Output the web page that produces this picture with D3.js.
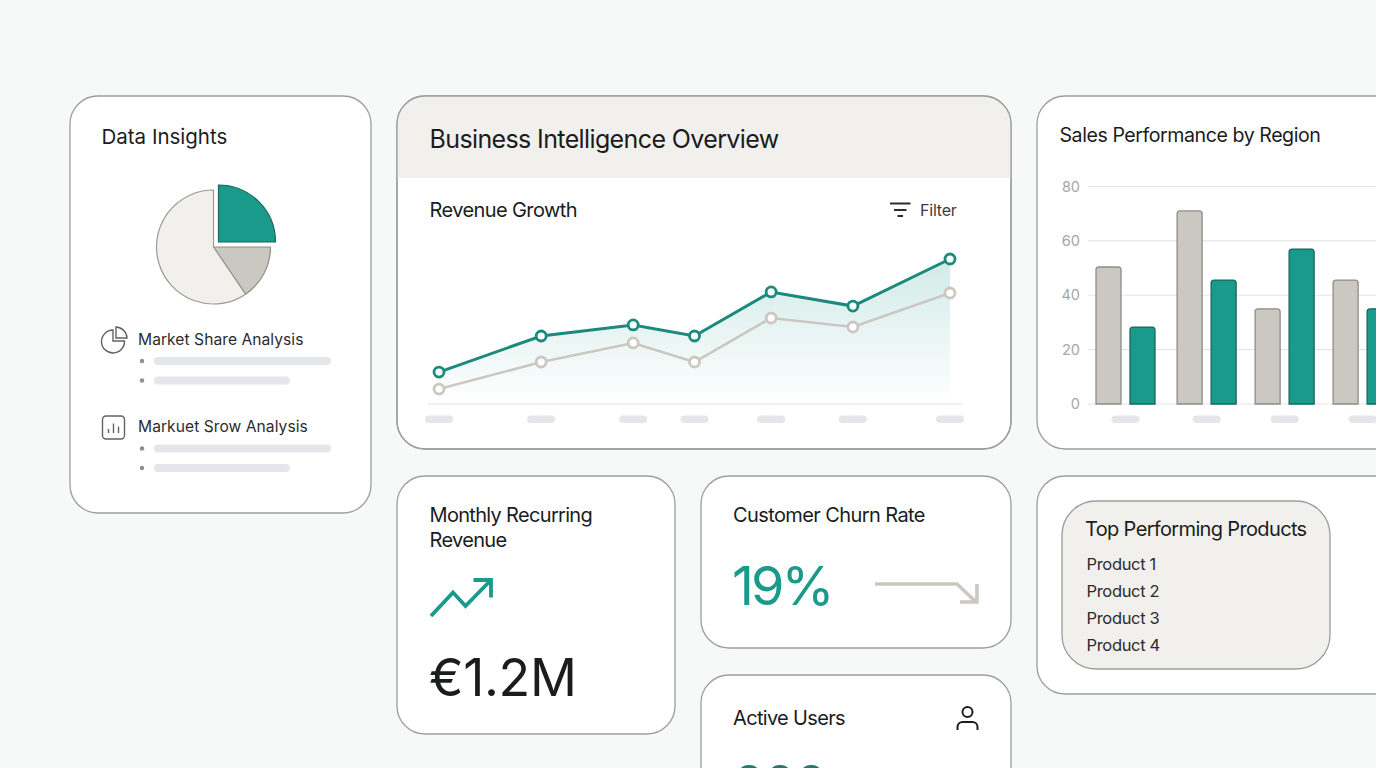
<!DOCTYPE html>
<html>
<head>
    <title>Business Intelligence Overview</title>
    <script src="https://cdnjs.cloudflare.com/ajax/libs/d3/7.8.5/d3.min.js"></script>
    <style>
        html, body { margin: 0; padding: 0; overflow: hidden; background: #f7f9f8; }
        svg { display: block; }
        text { font-family: Inter, "Noto Sans", sans-serif; fill: #1a1c1e; }
    </style>
</head>
<body>
    <div id="vis"></div>

    <script>
        // pie
        var shareNames = ["Segment A", "Segment B", "Segment C"];
        var shareValues = [25, 15.5, 59.5];

        // revenue lines
        var revenuePeriods = [0, 20, 38, 50, 65, 81, 100];
        var revenueCurrent = [18.8, 40, 46.5, 40, 65.9, 57.6, 85.3];
        var revenuePrevious = [8.8, 24.7, 35.9, 24.7, 50.6, 45.3, 65.3];

        // region bars
        var regionStops = [0, 1.04, 2.04, 3.04];
        var regionGray = [50.4, 71, 35, 45.6];
        var regionTeal = [28.3, 45.6, 57, 35];
        var regionTicks = [0, 20, 40, 60, 80];

        var productNames = ["Product 1", "Product 2", "Product 3", "Product 4"];

        var TEAL = "#1a9a8a", TEAL_LINE = "#1b8a7c", GRAY = "#cbc7c1", CREAM = "#f2f0ec",
            BORDER = "#9aa09f", PILL = "#e5e6ea";

        var vis = d3.select("#vis").append("svg")
            .attr("width", 1376)
            .attr("height", 768);

        var defs = vis.append("defs");
        var grad = defs.append("linearGradient").attr("id", "areaFill")
            .attr("x1", 0).attr("y1", 0).attr("x2", 0).attr("y2", 1);
        grad.append("stop").attr("offset", "0%").attr("stop-color", TEAL).attr("stop-opacity", 0.2);
        grad.append("stop").attr("offset", "100%").attr("stop-color", TEAL).attr("stop-opacity", 0);

        var clip = defs.append("clipPath").attr("id", "overviewClip");
        clip.append("rect").attr("x", 397).attr("y", 96).attr("width", 614).attr("height", 353).attr("rx", 28);

        function card(x, y, w, h) {
            return vis.append("rect")
                .attr("x", x).attr("y", y).attr("width", w).attr("height", h)
                .attr("rx", 28)
                .attr("fill", "#fff")
                .attr("stroke", BORDER)
                .attr("stroke-width", 1.3);
        }

        function label(x, y, str, size, color, spacing) {
            return vis.append("text")
                .attr("x", x).attr("y", y)
                .style("font-size", size + "px")
                .style("fill", color || "#1a1c1e")
                .style("letter-spacing", (spacing || 0) + "px")
                .text(str);
        }

        function pill(x, y, w, h) {
            return vis.append("rect")
                .attr("x", x).attr("y", y).attr("width", w).attr("height", h)
                .attr("rx", h / 2)
                .attr("fill", PILL);
        }

        // ---- Data Insights card
        card(70, 96, 301, 417);
        label(101.5, 144, "Data Insights", 20.5);

        var pie = d3.pie().sort(null)(shareValues);
        var arc = d3.arc().innerRadius(0).outerRadius(57);
        var shareFill = [TEAL, GRAY, CREAM];
        var shareStroke = ["#17675e", "#8f8d88", "#9a9a97"];
        var shareShift = [[5, -5], [0, 0], [0, 0]];
        vis.append("g").attr("transform", "translate(213.5,247)")
            .selectAll("path")
            .data(pie)
            .enter().append("path")
            .attr("d", arc)
            .attr("transform", function(d, i) { return "translate(" + shareShift[i] + ")"; })
            .attr("fill", function(d, i) { return shareFill[i]; })
            .attr("stroke", function(d, i) { return shareStroke[i]; })
            .attr("stroke-width", 1.2);

        var iconColor = "#5f6364";
        // little pie icon
        var ic1 = vis.append("g").attr("transform", "translate(113,341)")
            .attr("fill", "none").attr("stroke", iconColor).attr("stroke-width", 1.4);
        ic1.append("path").attr("d", "M0,-11 A11.5,11.5 0 1 0 11.5,0 L0,0 Z");
        ic1.append("path").attr("d", "M3,-14 A11.5,11.5 0 0 1 14,-3 L3,-3 Z");

        label(138, 344.5, "Market Share Analysis", 15.6, "#2a2d2f", 0.05);
        [361, 380.5].forEach(function(y, i) {
            vis.append("circle").attr("cx", 142).attr("cy", y).attr("r", 2.2).attr("fill", "#8b8f90");
            pill(154, y - 4, i ? 136 : 177, 8);
        });

        // little bar icon
        var ic2 = vis.append("g").attr("transform", "translate(102,415)")
            .attr("fill", "none").attr("stroke", iconColor).attr("stroke-width", 1.4);
        ic2.append("rect").attr("x", 0.5).attr("y", 1).attr("width", 22).attr("height", 23).attr("rx", 3.5);
        ic2.append("path").attr("d", "M6.5,18V14 M11.5,18V8.5 M16.5,18V11.5");

        label(138, 431.5, "Markuet Srow Analysis", 15.6, "#2a2d2f", 0.05);
        [448.5, 468].forEach(function(y, i) {
            vis.append("circle").attr("cx", 142).attr("cy", y).attr("r", 2.2).attr("fill", "#8b8f90");
            pill(154, y - 4, i ? 136 : 177, 8);
        });

        // ---- Overview card
        card(397, 96, 614, 353);
        vis.append("rect")
            .attr("x", 397).attr("y", 96).attr("width", 614).attr("height", 82)
            .attr("fill", CREAM)
            .attr("clip-path", "url(#overviewClip)");
        vis.append("rect")
            .attr("x", 397).attr("y", 96).attr("width", 614).attr("height", 353)
            .attr("rx", 28).attr("fill", "none")
            .attr("stroke", BORDER).attr("stroke-width", 1.3);

        label(429.5, 148, "Business Intelligence Overview", 25, null, -0.62);
        label(429.5, 217, "Revenue Growth", 20, null, -0.6);
        label(920, 215.5, "Filter", 16, "#3a3d3f", -0.2);

        var filt = vis.append("g").attr("stroke", "#2b2e30").attr("stroke-width", 2).attr("fill", "none");
        filt.append("path").attr("d", "M890,203.5H910.5 M894,210H906.5 M897.5,216H903");

        var x = d3.scaleLinear().domain([0, 100]).range([439, 950]);
        var y = d3.scaleLinear().domain([0, 100]).range([404, 234]);

        var rows = revenuePeriods.map(function(p, i) {
            return { p: p, cur: revenueCurrent[i], prev: revenuePrevious[i] };
        });

        var area = d3.area()
            .x(function(d) { return x(d.p); })
            .y0(y(0))
            .y1(function(d) { return y(d.cur); });
        vis.append("path").datum(rows).attr("d", area).attr("fill", "url(#areaFill)");

        vis.append("line")
            .attr("x1", 428).attr("x2", 963)
            .attr("y1", y(0)).attr("y2", y(0))
            .attr("stroke", "#e3e4e6").attr("stroke-width", 1.2);

        function drawLine(key, color, width) {
            var line = d3.line()
                .x(function(d) { return x(d.p); })
                .y(function(d) { return y(d[key]); });
            vis.append("path").datum(rows)
                .attr("d", line)
                .attr("fill", "none")
                .attr("stroke", color)
                .attr("stroke-width", width);
            vis.selectAll("circle." + key)
                .data(rows)
                .enter().append("circle")
                .attr("class", key)
                .attr("cx", function(d) { return x(d.p); })
                .attr("cy", function(d) { return y(d[key]); })
                .attr("r", 5)
                .attr("fill", "#fff")
                .attr("stroke", color)
                .attr("stroke-width", 2.8);
        }
        drawLine("prev", GRAY, 2.6);
        drawLine("cur", TEAL_LINE, 3);

        revenuePeriods.forEach(function(p) {
            pill(x(p) - 14, 415.5, 28, 7.5);
        });

        // ---- Sales by region card
        card(1037, 96, 400, 353);
        label(1059.5, 142, "Sales Performance by Region", 19.6, null, -0.45);

        var by = d3.scaleLinear().domain([0, 80]).range([404, 186.5]);
        var bx = d3.scaleLinear().domain([0, 1]).range([1125.5, 1203.5]);

        var yAxis = d3.axisLeft(by).tickValues(regionTicks).tickSize(0).tickPadding(0);
        var yG = vis.append("g").attr("transform", "translate(1080,0)").call(yAxis);
        yG.select(".domain").remove();
        yG.selectAll("text")
            .style("font-size", "14.5px")
            .style("font-family", "Inter, sans-serif")
            .style("fill", "#a5a7a8");

        regionTicks.forEach(function(t) {
            vis.append("line")
                .attr("x1", 1088).attr("x2", 1376)
                .attr("y1", by(t)).attr("y2", by(t))
                .attr("stroke", "#e4e5e7").attr("stroke-width", 1.1);
        });

        function drawBars(name, values, offset, fill, stroke) {
            vis.selectAll("path." + name)
                .data(values)
                .enter().append("path")
                .attr("class", name)
                .attr("d", function(d, i) {
                    var l = bx(regionStops[i]) + offset, r = l + 25, t = by(d), b = by(0), c = 3;
                    return "M" + l + "," + b + "V" + (t + c) + "Q" + l + "," + t + " " + (l + c) + "," + t +
                        "H" + (r - c) + "Q" + r + "," + t + " " + r + "," + (t + c) + "V" + b + "Z";
                })
                .attr("fill", fill)
                .attr("stroke", stroke)
                .attr("stroke-width", 1.3);
        }
        drawBars("gray", regionGray, -29.5, GRAY, "#8f8d88");
        drawBars("teal", regionTeal, 4.5, TEAL, "#17675e");

        regionStops.forEach(function(s) {
            pill(bx(s) - 14, 415.5, 28, 7.5);
        });

        // ---- Monthly recurring revenue
        card(397, 476, 278, 258);
        label(429.5, 522, "Monthly Recurring", 20, null, -0.68);
        label(429.5, 547, "Revenue", 20, null, -0.68);
        vis.append("path")
            .attr("d", "M431,616L453,592.5L465.5,606L491,580 M473.5,580H491V597.5")
            .attr("fill", "none").attr("stroke", TEAL).attr("stroke-width", 3.8);
        label(429, 696, "€1.2M", 52, null, -0.4);

        // ---- Churn
        card(701, 476, 310, 172);
        label(733, 522, "Customer Churn Rate", 20, null, -0.6);
        label(732, 605, "19%", 54, TEAL, -3);
        vis.append("path")
            .attr("d", "M875,584H957L976,602 M977,584V602H960")
            .attr("fill", "none").attr("stroke", GRAY).attr("stroke-width", 3.6);

        // ---- Active users
        card(701, 675, 310, 140);
        label(733, 725, "Active Users", 20, null, -0.67);
        var user = vis.append("g").attr("fill", "none").attr("stroke", "#1a1c1e").attr("stroke-width", 2);
        user.append("circle").attr("cx", 967.5).attr("cy", 712).attr("r", 5);
        user.append("path").attr("d", "M957.5,730V727A5,5 0 0 1 962.5,722H972.5A5,5 0 0 1 977.5,727V730");
        label(732, 804, "000", 54, "#267a72", -3);

        // ---- Top products
        card(1037, 476, 400, 218);
        vis.append("rect")
            .attr("x", 1062).attr("y", 501).attr("width", 268).attr("height", 168)
            .attr("rx", 34)
            .attr("fill", CREAM)
            .attr("stroke", BORDER).attr("stroke-width", 1.3);
        label(1085, 536, "Top Performing Products", 20, null, -0.65);
        productNames.forEach(function(name, i) {
            label(1086.5, 570 + i * 27, name, 16.5, "#2a2d2f", -0.33);
        });
    </script>
</body>
</html>
